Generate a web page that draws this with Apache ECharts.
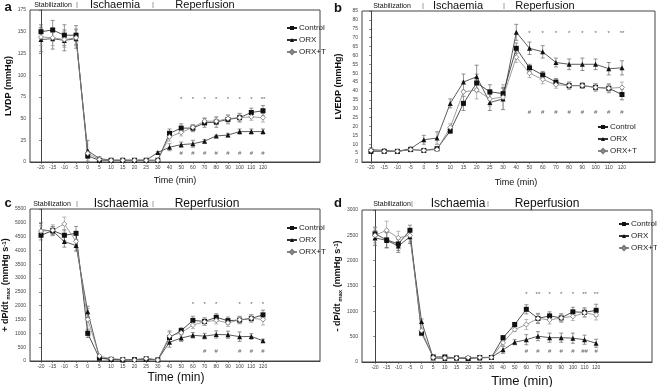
<!DOCTYPE html>
<html><head><meta charset="utf-8">
<script src="https://cdn.jsdelivr.net/npm/echarts@6/dist/echarts.min.js"></script>
<style>html,body{margin:0;padding:0;background:#fff}#c{width:657px;height:387px}</style>
</head><body><div id="c"></div>
<script>
const ticks = ['-20','-15','-10','-5','0','5','10','15','20','25','30','40','50','60','70','80','90','100','110','120'];
const seriesNames = ['Control','ORX','ORX+T'];

// Panel a: LVDP (mmHg)
const aControl    = [150,152,146,146,7,2,2,2,2,2,2,33,39,39,45,46,49,51,57,59];
const aControlErr = [8,11,12,11,3,1,1,1,1,1,1,5,5,4,5,6,5,5,5,6];
const aORX        = [141,142,140,142,13,4,2,2,2,2,11,17,20,21,24,30,31,35,35,35];
const aORXErr     = [14,12,12,11,12,2,1,1,1,1,1,4,3,4,2,1,2,3,3,3];
const aORXT       = [144,143,141,143,10,3,2,2,2,2,2,29,34,40,47,47,50,51,52,51];
const aORXTErr    = [10,9,9,9,4,1,1,1,1,1,1,5,4,3,4,4,4,4,4,5];
const aStarAt  = ['50','60','70','80','90','100','110','120'];
const aStarTxt = ['*','*','*','*','*','*','*','**'];
const aStarY   = 72;
const aHashAt  = ['50','60','70','80','90','100','110','120'];
const aHashTxt = ['#','#','#','#','#','#','#','#'];
const aHashY   = 10;

// Panel b: LVEDP (mmHg)
const bControl    = [6,6,6,7,6.5,7.5,17.5,33,44.5,39.5,38.5,64,53,49,45,43,43,42,41.5,38];
const bControlErr = [1,0.8,0.8,1,0.8,0.8,1.5,4,5,4,3.5,3,2,2,2,2,1.5,2,2.5,3];
const bORX        = [7,6.5,6,7.5,12.5,13.5,33,45,48,33.5,35.5,73,64,62,56,55,55,55,52.5,53];
const bORXErr     = [1,0.8,0.8,1,2.5,3.5,2.5,4.5,6.5,4.5,6,4.5,3.5,3.5,2.5,3,3.5,3,3.5,4];
const bORXT       = [6.5,6,6,7,6.5,7,19.5,39.5,40.5,35.5,36.5,59,50,46.5,43.5,43,43,42,41.5,42];
const bORXTErr    = [0.8,0.8,0.8,0.8,0.8,0.8,2,6,5,4,7,3,2.5,2.5,2,2,1.5,2,2,3];
const bStarAt  = ['50','60','70','80','90','100','110','120'];
const bStarTxt = ['*','*','*','*','*','*','*','**'];
const bStarY   = 72.5;
const bHashAt  = ['50','60','70','80','90','100','110','120'];
const bHashTxt = ['#','#','#','#','#','#','#','#'];
const bHashY   = 28;

// Panel c: +dP/dt max (mmHg s-1)
const cControl    = [4550,4720,4550,4620,1000,100,60,50,50,80,40,850,1100,1470,1430,1580,1460,1480,1540,1670];
const cControlErr = [170,150,200,250,150,30,20,20,20,20,20,200,100,150,130,130,130,130,130,170];
const cORX        = [4750,4700,4320,4180,1780,130,60,40,50,70,50,680,830,930,900,960,950,880,890,730];
const cORXErr     = [250,150,200,200,200,40,20,20,20,20,20,180,120,100,100,130,130,170,100,60];
const cORXT       = [4700,4730,4960,4330,1500,180,80,60,40,90,40,900,1020,1300,1420,1470,1380,1490,1550,1500];
const cORXTErr    = [200,200,250,350,400,40,20,20,20,20,20,200,150,130,130,130,130,130,130,200];
const cStarAt  = ['60','70','80','100','110','120'];
const cStarTxt = ['*','*','*','*','*','*'];
const cStarY   = 2050;
const cHashAt  = ['70','80','100','110','120'];
const cHashTxt = ['#','#','#','#','#'];
const cHashY   = 360;

// Panel d: -dP/dt max (mmHg s-1)
const dControl    = [2530,2410,2330,2600,570,100,100,80,70,90,90,480,740,1040,860,910,870,990,980,1020];
const dControlErr = [130,150,130,100,50,20,20,20,20,20,20,40,40,90,100,80,80,90,90,120];
const dORX        = [2450,2400,2290,2470,800,80,70,80,80,80,90,240,390,440,510,480,480,470,440,370];
const dORXErr     = [150,150,130,130,50,20,20,20,20,20,20,70,50,100,90,90,90,100,90,80];
const dORXT       = [2500,2600,2450,2500,620,90,80,80,90,90,90,380,640,740,860,830,870,900,970,930];
const dORXTErr    = [150,180,130,130,50,20,20,20,20,20,20,50,40,100,80,80,80,80,80,100];
const dStarAt  = ['60','70','80','90','100','110','120'];
const dStarTxt = ['*','**','*','*','*','**','**'];
const dStarY   = 1336;
const dHashAt  = ['60','70','80','90','100','110','120'];
const dHashTxt = ['#','#','#','#','#','##','#'];
const dHashY   = 204;

const FONT = 'Liberation Sans, Arial, sans-serif';
const styles = [
  {symbol:'rect', size:5, fill:'#111', stroke:'#111', line:'#222', err:'#666'},
  {symbol:'triangle', size:5, fill:'#111', stroke:'#111', line:'#333', err:'#666'},
  {symbol:'diamond', size:5, fill:'#fff', stroke:'#777', line:'#888', err:'#999'}
];

const panels = [
  {grid:{left:30, top:10, width:290, height:152}, xMin:-0.94, xMax:23.88, yMax:175, yStep:25,
   yName:'LVDP (mmHg)', vals:[aControl,aORX,aORXT], errs:[aControlErr,aORXErr,aORXTErr],
   marks:[[aStarAt,aStarTxt,aStarY],[aHashAt,aHashTxt,aHashY]], legend:{left:281, top:19}},
  {grid:{left:362, top:11, width:293, height:151}, xMin:-0.68, xMax:21.5, yMax:85, yStep:5,
   yName:'LVEDP (mmHg)', vals:[bControl,bORX,bORXT], errs:[bControlErr,bORXErr,bORXTErr],
   marks:[[bStarAt,bStarTxt,bStarY],[bHashAt,bHashTxt,bHashY]], legend:{left:592, top:118}},
  {grid:{left:30, top:209, width:290, height:152}, xMin:-0.94, xMax:23.88, yMax:5500, yStep:500,
   yName:'+ dP/dt{s| max} (mmHg s{p|-1})', vals:[cControl,cORX,cORXT], errs:[cControlErr,cORXErr,cORXTErr],
   marks:[[cStarAt,cStarTxt,cStarY],[cHashAt,cHashTxt,cHashY]], legend:{left:281, top:219}},
  {grid:{left:362, top:210, width:290, height:152}, xMin:-1.12, xMax:23.8, yMax:3000, yStep:500,
   yName:'- dP/dt{s| max} (mmHg s{p|-1})', vals:[dControl,dORX,dORXT], errs:[dControlErr,dORXErr,dORXTErr],
   marks:[[dStarAt,dStarTxt,dStarY],[dHashAt,dHashTxt,dHashY]], legend:{left:613, top:215}}
];

const grids = [], xAxes = [], yAxes = [], series = [], legends = [];
panels.forEach((p, k) => {
  grids.push(Object.assign({show:true, borderColor:'#444', borderWidth:1, backgroundColor:'transparent'}, p.grid));
  xAxes.push({type:'value', gridIndex:k, min:p.xMin, max:p.xMax,
    axisLine:{show:true, lineStyle:{color:'#444', width:1}},
    axisTick:{show:true, length:2, customValues:ticks.map((t,i)=>i), lineStyle:{color:'#444', width:0.6}},
    axisLabel:{show:true, customValues:ticks.map((t,i)=>i), formatter:v=>ticks[v]!==undefined?ticks[v]:'', fontSize:5, color:'#444', margin:3, fontFamily:FONT},
    splitLine:{show:false}});
  yAxes.push({type:'value', gridIndex:k, min:0, max:p.yMax, interval:p.yStep,
    axisLine:{show:true, lineStyle:{color:'#444', width:1}},
    axisTick:{show:true, length:2, lineStyle:{color:'#444', width:0.6}},
    axisLabel:{fontSize:5, color:'#444', margin:4, fontFamily:FONT, formatter:v=>String(v)},
    splitLine:{show:false},
    name:p.yName, nameLocation:'middle', nameGap:k%2===0?17:19,
    nameTextStyle:{fontSize:9, fontWeight:'bold', color:'#111', fontFamily:FONT,
      rich:{s:{fontSize:6, fontWeight:'bold', color:'#111', verticalAlign:'bottom', padding:[4,0,0,0], fontFamily:FONT},
            p:{fontSize:6, fontWeight:'bold', color:'#111', verticalAlign:'top', padding:[0,0,4,0], fontFamily:FONT}}}});
  seriesNames.forEach((nm, s) => {
    const st = styles[s];
    series.push({name:nm, type:'line', xAxisIndex:k, yAxisIndex:k,
      data:p.vals[s].map((v,i)=>[i,v]), symbol:st.symbol, symbolSize:st.size,
      itemStyle:{color:st.fill, borderColor:st.stroke, borderWidth:s===2?0.8:0},
      lineStyle:{color:st.line, width:0.8}, z:4, animation:false});
    series.push({type:'custom', xAxisIndex:k, yAxisIndex:k, z:3, animation:false,
      data:p.vals[s].map((v,i)=>[i,v,p.errs[s][i]]),
      renderItem:(params, api) => {
        const x = api.value(0), y = api.value(1), e = api.value(2);
        const t = api.coord([x, y+e]), b = api.coord([x, y-e]);
        const sty = {stroke:st.err, lineWidth:0.7};
        return {type:'group', children:[
          {type:'line', shape:{x1:t[0], y1:t[1], x2:b[0], y2:b[1]}, style:sty},
          {type:'line', shape:{x1:t[0]-2, y1:t[1], x2:t[0]+2, y2:t[1]}, style:sty},
          {type:'line', shape:{x1:b[0]-2, y1:b[1], x2:b[0]+2, y2:b[1]}, style:sty}]};
      }});
  });
  p.marks.forEach(([at, txt, yv]) => {
    series.push({type:'scatter', xAxisIndex:k, yAxisIndex:k, symbolSize:0, z:5, animation:false,
      data:at.map((t,i)=>[ticks.indexOf(t), yv, txt[i]]),
      label:{show:true, position:'inside', formatter:q=>q.data[2], fontSize:6, color:'#333', fontFamily:FONT}});
  });
  legends.push({orient:'vertical', left:p.legend.left, top:p.legend.top, data:seriesNames,
    itemWidth:10, itemHeight:5, itemGap:4, selectedMode:false,
    textStyle:{fontSize:8, color:'#222', fontFamily:FONT, padding:[0,0,0,-3]}});
});

const graphics = [];
function txt(x, y, s, size, opts) {
  graphics.push({type:'text', x:x, y:y, style:Object.assign({text:s, fontSize:size, fontFamily:FONT, fill:'#111', textAlign:'center', textVerticalAlign:'middle'}, opts||{})});
}
function sep(x, y) {
  graphics.push({type:'line', shape:{x1:x, y1:y, x2:x, y2:y+6}, style:{stroke:'#888', lineWidth:0.8}});
}
// panel letters
txt(8, 7, 'a', 13, {fontWeight:'bold'});
txt(338, 8, 'b', 13, {fontWeight:'bold'});
txt(8, 203, 'c', 13, {fontWeight:'bold'});
txt(338, 203, 'd', 13, {fontWeight:'bold'});
// phase headers
[[53,5,115,205,77,153,1],[392,6,458,545,423,504,1],[52,204,121,207,77,153,2],[392,204,458,547,412,488,2]].forEach(h => {
  txt(h[0], h[1], 'Stabilization', 7);
  txt(h[2], h[1], 'Ischaemia', h[6]===1?11:12);
  txt(h[3], h[1], 'Reperfusion', h[6]===1?11:12);
  sep(h[4], h[1]-3); sep(h[5], h[1]-3);
});
// x axis titles
txt(175, 181, 'Time (min)', 9);
txt(516, 183, 'Time (min)', 9);
txt(176, 378, 'Time (min)', 12);
txt(522, 381, 'Time (min)', 13);

const chart = echarts.init(document.getElementById('c'), null, {renderer:'canvas'});
chart.setOption({animation:false, backgroundColor:'#fff', grid:grids, xAxis:xAxes, yAxis:yAxes,
  legend:legends, series:series, graphic:graphics});
</script></body></html>
